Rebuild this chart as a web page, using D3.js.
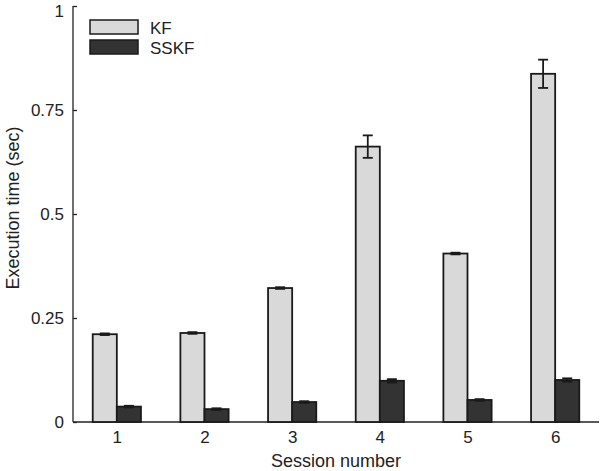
<!DOCTYPE html>
<html>
<head>
<meta charset="utf-8">
<script src="https://cdnjs.cloudflare.com/ajax/libs/d3/7.8.2/d3.min.js"></script>
<style>
  body { margin: 0; background: #fff; }
  svg { display: block; font-family: "Liberation Sans", Arial, sans-serif; }
  .axis path, .axis line { stroke: #222; stroke-width: 1.3; }
  .axis text { font-size: 17px; fill: #222; }
</style>
</head>
<body>
<svg id="chart" width="600" height="471"></svg>
<script>
const sessions = [1, 2, 3, 4, 5, 6];
const kfMean = [0.211, 0.214, 0.322, 0.662, 0.405, 0.837];
const kfErr = [0.002, 0.002, 0.002, 0.027, 0.002, 0.034];
const sskfMean = [0.037, 0.031, 0.048, 0.099, 0.053, 0.101];
const sskfErr = [0.002, 0.002, 0.002, 0.004, 0.002, 0.004];
const yTicks = [0, 0.25, 0.5, 0.75, 1];
const yTickLabels = ['0', '0.25', '0.5', '0.75', '1'];

const series = [
    { name: 'KF', mean: kfMean, err: kfErr, fill: '#d9d9d9', side: -1 },
    { name: 'SSKF', mean: sskfMean, err: sskfErr, fill: '#333333', side: 0 }
];

const MARGIN = { top: 6, bottom: 49, left: 73, right: 1 };
const svg = d3.select('#chart');
const width = 600, height = 471;

const x = d3.scaleLinear().domain([0.5, 6.5]).range([MARGIN.left, width - MARGIN.right]);
const y = d3.scaleLinear().domain([0, 1]).range([height - MARGIN.bottom, MARGIN.top]);
const barW = 0.275; // in session units

// y axis
svg.append('g')
    .attr('class', 'y axis')
    .attr('transform', `translate(${MARGIN.left},0)`)
    .call(d3.axisLeft(y).tickValues(yTicks).tickSize(-4).tickPadding(9)
        .tickFormat((d, i) => yTickLabels[i]))
    .call(g => g.select('.domain').attr('d', `M0,${y(1)}V${y(0)}`))
    // top label sits right at the edge, nudge it down a bit
    .call(g => g.selectAll('.tick text').filter(d => d === 1).attr('dy', '0.62em'));

// x axis
svg.append('g')
    .attr('class', 'x axis')
    .attr('transform', `translate(0,${y(0)})`)
    .call(d3.axisBottom(x).tickValues(sessions).tickSize(0).tickPadding(9)
        .tickFormat(d3.format('d')))
    .call(g => g.select('.domain').attr('d', `M${x(0.5)},0H${x(6.5)}`));

// bars
series.forEach(s => {
    const g = svg.append('g').attr('class', 'series ' + s.name);
    g.selectAll('rect')
        .data(sessions)
        .enter().append('rect')
        .attr('x', (d, i) => x(d + s.side * barW))
        .attr('width', x(barW) - x(0))
        .attr('y', (d, i) => y(s.mean[i]))
        .attr('height', (d, i) => y(0) - y(s.mean[i]))
        .attr('fill', s.fill)
        .attr('stroke', '#1a1a1a')
        .attr('stroke-width', 1.8);

    // error bars
    const eb = g.selectAll('.err')
        .data(sessions)
        .enter().append('g')
        .attr('class', 'err')
        .attr('stroke', '#1a1a1a')
        .attr('stroke-width', 1.8);
    const cx = (d) => x(d + s.side * barW + barW / 2);
    eb.append('line')
        .attr('x1', cx).attr('x2', cx)
        .attr('y1', (d, i) => y(s.mean[i] - s.err[i]))
        .attr('y2', (d, i) => y(s.mean[i] + s.err[i]));
    [-1, 1].forEach(k => {
        eb.append('line')
            .attr('x1', d => cx(d) - 5).attr('x2', d => cx(d) + 5)
            .attr('y1', (d, i) => y(s.mean[i] + k * s.err[i]))
            .attr('y2', (d, i) => y(s.mean[i] + k * s.err[i]));
    });
});

// legend
const legend = svg.append('g').attr('class', 'legend')
    .selectAll('g')
    .data(series)
    .enter().append('g')
    .attr('transform', (d, i) => `translate(90,${20 + i * 20})`);
legend.append('rect')
    .attr('width', 48).attr('height', 14)
    .attr('fill', d => d.fill)
    .attr('stroke', '#1a1a1a')
    .attr('stroke-width', 1.5);
legend.append('text')
    .attr('x', 60).attr('y', 13.5)
    .attr('font-size', 17)
    .attr('fill', '#222')
    .text(d => d.name);

// axis titles
svg.append('text')
    .attr('x', (x(0.5) + x(6.5)) / 2)
    .attr('y', 467)
    .attr('text-anchor', 'middle')
    .attr('font-size', 18)
    .attr('fill', '#222')
    .text('Session number');

svg.append('text')
    .attr('transform', `translate(19,${(y(0) + y(1)) / 2 - 6}) rotate(-90)`)
    .attr('text-anchor', 'middle')
    .attr('font-size', 18)
    .attr('fill', '#222')
    .text('Execution time (sec)');
</script>
</body>
</html>
